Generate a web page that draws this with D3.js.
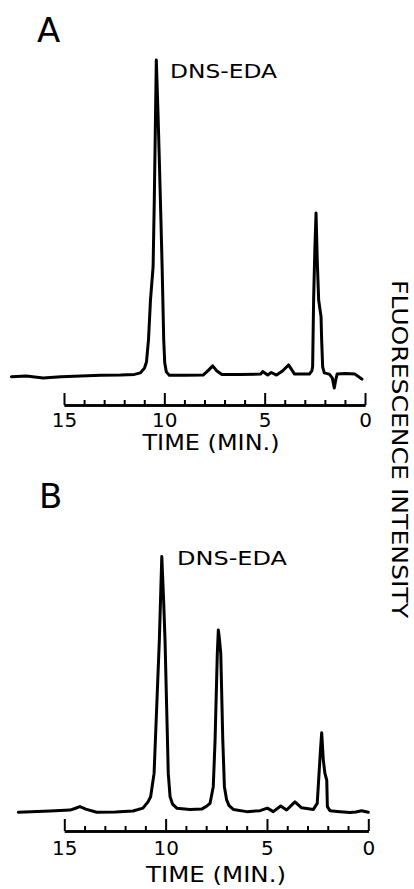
<!DOCTYPE html>
<html>
<head>
<meta charset="utf-8">
<script src="https://cdn.jsdelivr.net/npm/d3@7"></script>
<style>
  html, body { margin: 0; padding: 0; background: #fff; }
  svg { display: block; }
  text { font-family: "DejaVu Sans", sans-serif; fill: #000; }
</style>
</head>
<body>
<div id="container"></div>
<script>
////////// DATA

// Panel A trace: retention time (min) and fluorescence intensity (A main peak = 100)
var timeA = [17.62, 16.88, 16.04, 15.15, 14.16, 13.17, 12.18, 11.49, 11.19, 10.99, 10.89, 10.79, 10.69, 10.56, 10.50, 10.45, 10.40,
	10.32, 10.25, 10.17, 10.11, 10.03, 9.98, 9.90, 9.75, 8.96, 8.07, 7.82, 7.59, 7.38, 7.13, 6.24, 5.20, 5.10, 4.85, 4.67, 4.41,
	4.11, 3.81, 3.51, 2.77, 2.65, 2.61, 2.56, 2.50, 2.44, 2.38, 2.31, 2.19, 2.16, 2.11, 2.03, 1.78, 1.63, 1.53, 1.46, 1.39, 0.99,
	0.50, 0.30, 0.15];
var intensityA = [-0.2, 0, -0.6, -0.2, 0, 0.2, 0.3, 0.5, 1.0, 2.5, 4.4, 11.4, 24.1, 34.5, 55.7, 77.8, 100,
	84.2, 68.4, 49.4, 34.5, 11.4, 4.1, 1.3, 0.2, 0.2, 0.3, 1.7, 3.2, 1.6, 0.5, 0.5, 0.6, 1.4, 0.3, 1.1, 0.3,
	1.6, 3.5, 0.6, 0.6, 1.6, 2.9, 24.1, 39.9, 51.6, 36.7, 24.1, 18.7, 11.4, 2.9, 1.0, 0.6, -0.6, -3.8, -1.3, 0.6, 0.8,
	0.6, -0.3, -1.0];

// Panel B trace
var timeB = [17.27, 15.70, 14.72, 14.48, 14.23, 13.94, 13.40, 12.48, 11.61, 11.12, 10.87, 10.74, 10.57, 10.44, 10.31, 10.19,
	10.10, 10.03, 9.95, 9.87, 9.78, 9.66, 9.45, 8.80, 8.22, 7.96, 7.81, 7.65, 7.56, 7.45, 7.40, 7.34, 7.28, 7.18, 7.10, 6.99,
	6.87, 6.66, 6.00, 5.34, 4.98, 4.69, 4.32, 4.03, 3.62, 3.29, 2.71, 2.52, 2.42, 2.36, 2.30, 2.22, 2.14, 2.05, 2.02, 1.89,
	1.40, 0.90, 0.61, 0.33, 0.00];
var intensityB = [-0.4, 0, 0.3, 0.8, 1.4, 0.6, -0.4, -0.3, 0, 0.9, 2.9, 4.5, 11.9, 33.0, 54.1, 80.5,
	66.8, 54.1, 33.0, 11.9, 4.5, 2.2, 0.9, 0.5, 0.6, 1.6, 2.4, 7.7, 22.5, 49.9, 57.3, 54.1, 49.9, 22.5, 7.7, 3.5,
	1.7, 0.5, -0.2, 0.1, 0.9, -0.2, 1.6, 0.3, 2.9, 1.0, 0.5, 2.4, 13.0, 19.3, 24.8, 16.1, 11.9, 9.8, 1.4, 0.1,
	-0.2, -0.5, -0.3, 0.1, -0.4];

var majorTicks = [15, 10, 5, 0];
var minorTicks = [14, 13, 12, 11, 9, 8, 7, 6, 4, 3, 2, 1];
var panelLetters = ["A", "B"];
var peakLabel = "DNS-EDA";
var xTitle = "TIME (MIN.)";
var yTitle = "FLUORESCENCE INTENSITY";

////////// DRAWING

var gWidth = 414;
var gHeight = 889;

var svg = d3.select("#container").append("svg")
	.attr("width", gWidth)
	.attr("height", gHeight);

// one chromatogram panel
function drawPanel(p)
{
	var x = d3.scaleLinear().domain([15, 0]).range([p.x0, p.x1]);
	var y = d3.scaleLinear().domain([0, 100]).range([p.base, p.base - 316]);
	var g = svg.append("g");

	// trace
	var line = d3.line()
		.x(function(d) { return x(d[0]); })
		.y(function(d) { return y(d[1]); });
	g.append("path")
		.datum(d3.zip(p.time, p.value))
		.attr("d", line)
		.attr("fill", "none")
		.attr("stroke", "#000")
		.attr("stroke-width", 3)
		.attr("stroke-linejoin", "round")
		.attr("stroke-linecap", "round");

	// minor ticks (pointing up)
	var minorAxis = g.append("g")
		.attr("transform", "translate(0," + p.axisY + ")")
		.call(d3.axisTop(x).tickValues(minorTicks).tickSize(5).tickSizeOuter(0).tickFormat(""));
	// major ticks
	var majorAxis = g.append("g")
		.attr("transform", "translate(0," + p.axisY + ")")
		.call(d3.axisTop(x).tickValues(majorTicks).tickSize(12).tickSizeOuter(0).tickFormat(""));
	// tick labels below
	var labelAxis = g.append("g")
		.attr("transform", "translate(0," + p.axisY + ")")
		.call(d3.axisBottom(x).tickValues(majorTicks).tickSize(0).tickPadding(p.labelPad));

	[minorAxis, majorAxis].forEach(function(a) {
		a.selectAll("line").attr("stroke", "#000").attr("stroke-width", 2);
		a.select(".domain").attr("stroke", "#000").attr("stroke-width", 2.5);
	});
	labelAxis.select(".domain").remove();
	labelAxis.selectAll("text")
		.style("font-family", "'DejaVu Sans', sans-serif")
		.style("font-size", "20px")
		.attr("fill", "#000");

	// x title
	g.append("text")
		.attr("x", p.titleX)
		.attr("y", p.titleY)
		.attr("text-anchor", "middle")
		.attr("textLength", p.titleLen)
		.attr("lengthAdjust", "spacingAndGlyphs")
		.style("font-size", "21px")
		.text(xTitle);

	// panel letter
	g.append("text")
		.attr("x", p.letterX)
		.attr("y", p.letterY)
		.style("font-size", "34px")
		.text(p.letter);

	// peak label
	g.append("text")
		.attr("x", p.peakX)
		.attr("y", p.peakY)
		.attr("textLength", p.peakLen)
		.attr("lengthAdjust", "spacingAndGlyphs")
		.style("font-size", "20px")
		.text(peakLabel);
}

drawPanel({
	time: timeA, value: intensityA, letter: panelLetters[0],
	x0: 64, x1: 365, base: 376, axisY: 405, labelPad: 8,
	titleX: 211, titleY: 450, titleLen: 137,
	letterX: 37, letterY: 42,
	peakX: 170, peakY: 78, peakLen: 107
});

drawPanel({
	time: timeB, value: intensityB, letter: panelLetters[1],
	x0: 64.3, x1: 368.3, base: 811, axisY: 831, labelPad: 10,
	titleX: 216, titleY: 882, titleLen: 140,
	letterX: 39, letterY: 508,
	peakX: 177, peakY: 565, peakLen: 110
});

// shared y title, reads top to bottom
svg.append("text")
	.attr("transform", "translate(392,449) rotate(90)")
	.attr("text-anchor", "middle")
	.attr("textLength", 338)
	.attr("lengthAdjust", "spacingAndGlyphs")
	.style("font-size", "22px")
	.text(yTitle);
</script>
</body>
</html>
